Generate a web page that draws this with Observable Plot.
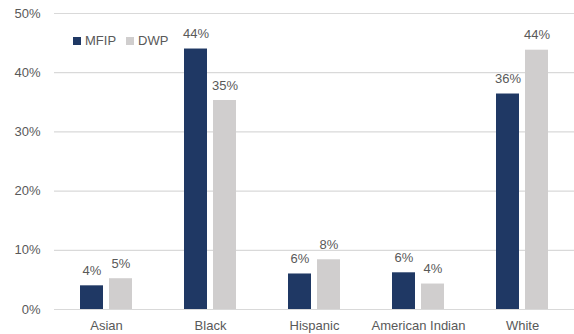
<!DOCTYPE html>
<html>
<head>
<meta charset="utf-8">
<script src="https://cdn.jsdelivr.net/npm/d3@7"></script>
<script src="https://cdn.jsdelivr.net/npm/@observablehq/plot@0.6"></script>
<style>
  html, body { margin: 0; padding: 0; background: #fff; }
  #wrap { position: relative; width: 574px; height: 334px; font-family: "Liberation Sans", Arial, sans-serif; }
  #legend { position: absolute; left: 73px; top: 33px; display: flex; align-items: center; font-size: 13px; color: #595959; }
  #legend span.sw { display: inline-block; width: 8px; height: 8px; margin-right: 4px; }
  #legend span.lab { margin-right: 10px; }
</style>
</head>
<body>
<div id="wrap">
  <div id="chart"></div>
  <div id="legend"></div>
</div>
<script>
const categories = ["Asian", "Black", "Hispanic", "American Indian", "White"];
const series = ["MFIP", "DWP"];
const mfip = [4.0, 44.0, 6.0, 6.2, 36.4];
const dwp = [5.2, 35.3, 8.4, 4.3, 43.8];
const colors = ["#1F3864", "#D0CECE"];
const yTicks = [0, 10, 20, 30, 40, 50];

const data = [];
categories.forEach((c, i) => {
  data.push({category: c, series: "MFIP", value: mfip[i]});
  data.push({category: c, series: "DWP", value: dwp[i]});
});

const chart = Plot.plot({
  width: 574,
  height: 334,
  marginTop: 13,
  marginBottom: 25,
  marginLeft: 53,
  marginRight: 0,
  style: {fontFamily: "Liberation Sans, Arial, sans-serif", fontSize: "13px", color: "#595959", background: "#fff"},
  fx: {domain: categories, padding: 0, label: null},
  x: {domain: series, paddingInner: 0.2, paddingOuter: 0.84, axis: null},
  y: {domain: [0, 50], ticks: yTicks, label: null},
  color: {domain: series, range: colors},
  marks: [
    Plot.gridY(yTicks, {stroke: "#D9D9D9", strokeOpacity: 1, strokeWidth: 1.2}),
    Plot.axisY(yTicks, {tickSize: 0, tickPadding: 14, tickFormat: d => d + "%", fill: "#595959", fontSize: 13, label: null}),
    Plot.axisFx({tickSize: 0, tickPadding: 11, fill: "#595959", fontSize: 13, label: null, anchor: "bottom"}),
    Plot.barY(data, {fx: "category", x: "series", y: "value", fill: "series"}),
    Plot.text(data, {fx: "category", x: "series", y: "value", text: d => Math.round(d.value) + "%", dy: -15, fill: "#595959", fontSize: 13})
  ]
});
document.getElementById("chart").appendChild(chart);

const legend = document.getElementById("legend");
series.forEach((s, i) => {
  const sw = document.createElement("span");
  sw.className = "sw";
  sw.style.background = colors[i];
  const lab = document.createElement("span");
  lab.className = "lab";
  lab.textContent = s;
  legend.appendChild(sw);
  legend.appendChild(lab);
});
</script>
</body>
</html>
